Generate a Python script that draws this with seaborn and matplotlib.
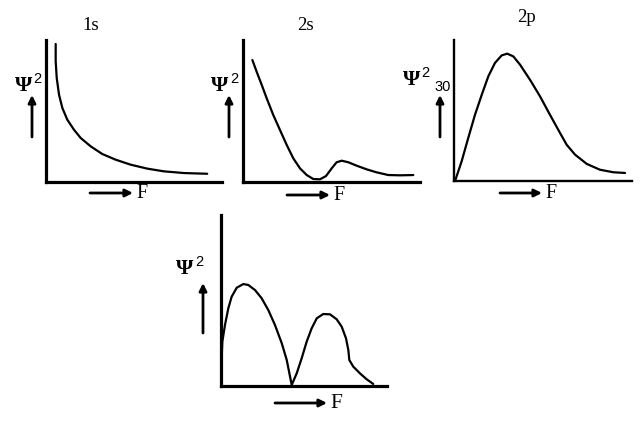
import numpy as np
import pandas as pd
import matplotlib
matplotlib.use("Agg")
import matplotlib.pyplot as plt
import seaborn as sns

# Valeurs (unités arbitraires, axes de 0 à 10)
r_1s = [0.55, 0.55, 0.61, 0.74, 0.93, 1.21, 1.59, 1.97, 2.54, 3.20, 3.96,
        4.81, 5.76, 6.70, 7.84, 9.16]
psi_1s = [9.72, 8.50, 7.32, 6.15, 5.21, 4.39, 3.68, 3.10, 2.51, 1.97, 1.57,
          1.22, 0.94, 0.75, 0.63, 0.58]

r_2s = [0.53, 0.77, 1.06, 1.34, 1.71, 2.09, 2.47, 2.84, 3.22, 3.60, 3.97, 4.35,
        4.69, 5.01, 5.29, 5.58, 5.95, 6.42, 6.99, 7.55, 8.21, 8.87, 9.62]
psi_2s = [8.59, 7.77, 6.83, 5.89, 4.72, 3.66, 2.61, 1.67, 0.96, 0.49, 0.21, 0.19,
          0.42, 0.96, 1.39, 1.50, 1.39, 1.15, 0.89, 0.68, 0.49, 0.47, 0.49]

r_2p = [0.06, 0.43, 0.80, 1.18, 1.56, 1.93, 2.30, 2.68, 2.99, 3.33, 3.71, 4.27,
        4.83, 5.39, 5.96, 6.33, 6.80, 7.46, 8.20, 8.95, 9.61]
psi_2p = [0.00, 1.40, 3.05, 4.70, 6.12, 7.43, 8.37, 8.91, 9.03, 8.84, 8.25, 7.18,
          6.01, 4.70, 3.40, 2.57, 1.87, 1.21, 0.80, 0.62, 0.57]

r_3s = [0.03, 0.08, 0.24, 0.44, 0.64, 0.95, 1.34, 1.64, 2.05, 2.45, 2.85, 3.25,
        3.66, 3.96, 4.26, 4.56, 4.86, 5.16, 5.46, 5.77, 6.16, 6.57, 6.97, 7.27,
        7.53, 7.67, 7.73, 7.97, 8.37, 8.78, 9.17]
psi_3s = [1.40, 2.59, 3.57, 4.54, 5.22, 5.75, 5.96, 5.91, 5.61, 5.13, 4.44, 3.57,
          2.50, 1.52, 0.06, 0.74, 1.62, 2.59, 3.37, 3.96, 4.21, 4.19, 3.90, 3.47,
          2.79, 2.11, 1.52, 1.13, 0.74, 0.39, 0.12]

titres = ["1s", "2s", "2p"]

W, H = 641, 426
sns.set_theme(style="white")
plt.rcParams["font.family"] = ["Liberation Serif", "DejaVu Serif"]
plt.rcParams["text.color"] = "black"

fig = plt.figure(figsize=(W / 100, H / 100), dpi=100)


def cadre(x0, x1, y0, y1):
    """Crée un axe à partir de coordonnées en pixels (y vers le bas)."""
    return fig.add_axes([x0 / W, (H - y1) / H, (x1 - x0) / W, (y1 - y0) / H])


def tracer(ax, r, psi, lw_axe=2.3):
    df = pd.DataFrame({"r": r, "psi": psi})
    # estimator=None : pas d'agrégation quand deux points ont le même r
    sns.lineplot(data=df, x="r", y="psi", sort=False, estimator=None,
                 color="black", linewidth=1.6, ax=ax)
    for ln in ax.lines:
        ln.set_clip_on(False)
        ln.set_solid_joinstyle("round")
    ax.set_xlim(0, 10)
    ax.set_ylim(0, 10)
    ax.set_xticks([])
    ax.set_yticks([])
    ax.set_xlabel("")
    ax.set_ylabel("")
    ax.set_facecolor("none")
    for s in ["top", "right"]:
        ax.spines[s].set_visible(False)
    for s in ["left", "bottom"]:
        ax.spines[s].set_color("black")
        ax.spines[s].set_linewidth(lw_axe)


ax1 = cadre(46, 222, 40, 182)
tracer(ax1, r_1s, psi_1s)
ax2 = cadre(243, 420, 40, 182)
tracer(ax2, r_2s, psi_2s)
ax3 = cadre(454, 632, 40, 181)
tracer(ax3, r_2p, psi_2p, lw_axe=1.7)
ax4 = cadre(221, 387, 215, 386)
tracer(ax4, r_3s, psi_3s)

# calque pour le texte et les flèches, en pixels
ov = fig.add_axes([0, 0, 1, 1], zorder=-1)
ov.set_xlim(0, W)
ov.set_ylim(H, 0)
ov.axis("off")

for t, (x, y) in zip(titres, [(91, 25), (305, 25), (527, 17)]):
    ov.text(x, y, t, fontsize=13.5, ha="center", va="center")

fl = dict(arrowstyle="-|>", color="black", lw=2, mutation_scale=11,
          shrinkA=0, shrinkB=0)

# flèches verticales
for x, y0, y1 in [(32, 137, 95), (229, 137, 95), (440, 137, 95), (203, 333, 283)]:
    ov.annotate("", xy=(x, y1), xytext=(x, y0), arrowprops=fl)

# flèches horizontales + F
for x0, x1, y, fs in [(90, 133, 193, 14.5), (287, 330, 195, 14.5),
                      (500, 542, 193, 14.5), (275, 327, 403, 15.5)]:
    ov.annotate("", xy=(x1, y), xytext=(x0, y), arrowprops=fl)
    ov.text(x1 + 3, y + 1, "F", fontsize=fs, ha="left", va="center")

# étiquettes Psi^2 (Ψ centré, exposant calé à gauche juste après)
for xp, yp, xs, ys in [(24, 86, 33, 79), (220, 86, 230, 79),
                       (412, 80, 421, 73), (185, 269, 195, 262)]:
    ov.text(xp, yp, "Ψ", fontsize=16, fontweight="bold", ha="center", va="center")
    ov.text(xs, ys, "2", fontsize=10.5, ha="left", va="center",
            family=["Liberation Sans", "DejaVu Sans"])
ov.text(443, 87, "30", fontsize=10.5, ha="center", va="center",
        family=["Liberation Sans", "DejaVu Sans"])

fig.savefig("out.png", dpi=100, facecolor="white")
